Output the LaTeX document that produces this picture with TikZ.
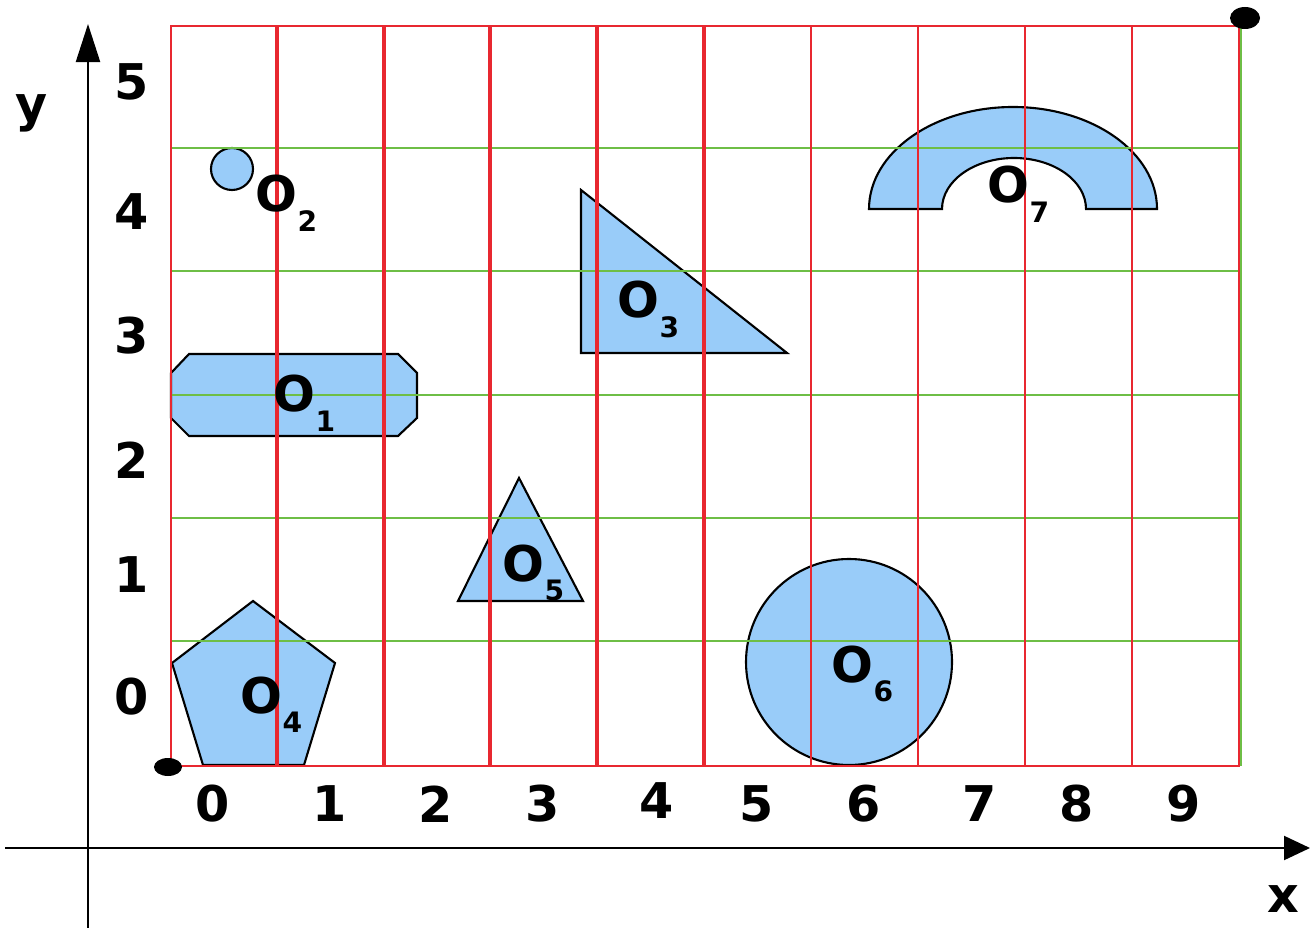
\documentclass[tikz,border=0pt]{standalone}
\usepackage{fontspec}
\setmainfont{DejaVu Sans}
\usepackage{tikz}
\usetikzlibrary{arrows.meta}
\usepackage{xcolor}

\definecolor{objblue}{RGB}{153,204,249}
\definecolor{gridred}{RGB}{232,40,48}
\definecolor{gridgreen}{RGB}{110,190,70}

\newcommand{\objlabel}[1]{O\raisebox{-5.5pt}{\fontsize{8}{9}\selectfont #1}}

\begin{document}
\begin{tikzpicture}[
  x=0.01cm, y=-0.01cm,
  every node/.style={font=\bfseries\fontsize{14}{16}\selectfont, inner sep=0pt},
  obj/.style={fill=objblue, draw=black, line width=0.6pt},
  objname/.style={anchor=base west, font=\bfseries\fontsize{14}{16}\selectfont},
  redthin/.style={draw=gridred, line width=0.35pt},
  redthick/.style={draw=gridred, line width=0.9pt},
  greenline/.style={draw=gridgreen, line width=0.45pt},
  axis/.style={line width=0.6pt}
]
\useasboundingbox (0,0) rectangle (1310,928);

% Parameters (in pixels of the grid)
\def\L{171}    % left edge of grid
\def\R{1240}   % right edge of grid
\def\T{26}     % top edge of grid
\def\B{766}    % bottom edge of grid

% --- Obstacles ---
% O1: long octagon
\draw[obj] (171,373) -- (189,354) -- (398,354) -- (417,373) -- (417,418)
  -- (398,436) -- (189,436) -- (171,418) -- cycle;
% O2: small disc
\draw[obj] (232,169) circle[radius=21];
% O3: right triangle
\draw[obj] (581,190) -- (581,353) -- (787,353) -- cycle;
% O4: pentagon
\draw[obj] (253,601) -- (335,663) -- (304,765) -- (203,765) -- (172,663) -- cycle;
% O5: triangle
\draw[obj] (519,478) -- (583,601) -- (458,601) -- cycle;
% O6: large disc
\draw[obj] (849,662) circle[radius=103];
% O7: half ring
\draw[obj] (869,209) arc[start angle=180, end angle=360, x radius=144, y radius=102]
  -- (1086,209) arc[start angle=0, end angle=-180, x radius=72, y radius=51] -- cycle;

% --- Grid ---
\foreach \gy in {148,271,395,518,641}
  \draw[greenline] (\L,\gy) -- (\R,\gy);
\draw[greenline] (\R+1,\T) -- (\R+1,\B);
\draw[redthin] (\L,\T) rectangle (\R-1,\B);
\foreach \gx in {811,918,1025,1132}
  \draw[redthin] (\gx,\T) -- (\gx,\B);
\foreach \gx in {277,384,490,597,704}
  \draw[redthick] (\gx,\T) -- (\gx,\B);

% --- Corner dots ---
\fill (168,767) ellipse[x radius=14, y radius=9];
\fill (1245,18) ellipse[x radius=15, y radius=11];

% --- Axes ---
\draw[axis,-{Triangle[length=3.8mm,width=2.4mm]}] (88,928) -- (88,24);
\draw[axis,-{Triangle[length=2.6mm,width=2.4mm]}] (5,848) -- (1310,848);
\node (ylab) at (32,113) {y};
\node (xlab) at (1283,899) {x};

% --- Tick labels ---
\foreach \v/\py in {0/697,1/575,2/460,3/336,4/212,5/82}
  \node (ty\v) at (132,\py) {\v};
\foreach \v/\px/\py in {0/213/804,1/330/804,2/436/804,3/543/804,4/657/801,
                        5/757/804,6/864/804,7/980/804,8/1077/804,9/1184/804}
  \node (tx\v) at (\px,\py) {\v};

% --- Obstacle names ---
\node[objname] (o1) at (273,412) {\objlabel{1}};
\node[objname] (o2) at (255,212) {\objlabel{2}};
\node[objname] (o3) at (617,318) {\objlabel{3}};
\node[objname] (o4) at (240,713) {\objlabel{4}};
\node[objname] (o5) at (502,581) {\objlabel{5}};
\node[objname] (o6) at (831,682) {\objlabel{6}};
\node[objname] (o7) at (987,203) {\objlabel{7}};

\end{tikzpicture}
\end{document}
